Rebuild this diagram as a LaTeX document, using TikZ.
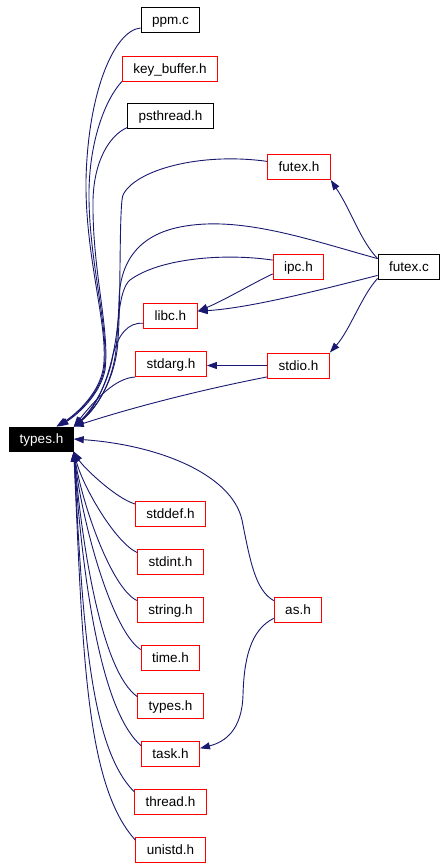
\documentclass[tikz,border=0pt]{standalone}
\usepackage{fontspec}
\setmainfont{Liberation Sans}
\usetikzlibrary{positioning, arrows.meta}
\definecolor{edgeblue}{RGB}{25,25,112}

\begin{document}
\begin{tikzpicture}[
    x=1pt, y=-1pt,
    node distance=22pt,
    fbox/.style={draw=black, line width=1pt, minimum height=25pt, text height=9.6pt, text depth=0pt, inner xsep=11pt, inner ysep=0pt, font=\fontsize{13.5}{15}\selectfont},
    hbox/.style={fbox, draw=red},
    root/.style={fbox, fill=black, text=white, minimum height=24pt, inner xsep=10pt},
    edge/.style={-{Triangle[length=10pt, width=7pt]}, edgeblue, line width=0.9pt},
]
\useasboundingbox (0,0) rectangle (447,868);

% the header itself
\node[root] (typ) at (41.5,439) {types.h};

% files above it
\node[fbox] (ppm) at (170.5,20) {ppm.c};
\node[hbox] (kb) at (170,68.5) {key\_buffer.h};
\node[fbox] (ps) at (170.5,116) {psthread.h};
\node[hbox] (fh) at (299,167) {futex.h};
\node[fbox] (fc) at (409,267) {futex.c};
\node[hbox] (ipc) at (298.5,267) {ipc.h};
\node[hbox] (lb) at (170.5,316) {libc.h};
\node[hbox] (sa) at (171,364) {stdarg.h};
\node[hbox] (si) at (298.5,365.5) {stdio.h};

% files below it
\node[hbox] (sdd) at (170.5,513.5) {stddef.h};
\node[hbox, below=of sdd] (sdi) {stdint.h};
\node[hbox, below=of sdi] (str) {string.h};
\node[hbox, below=of str] (tim) {time.h};
\node[hbox, below=of tim] (typ2) {types.h};
\node[hbox, below=of typ2] (tsk) {task.h};
\node[hbox, below=of tsk] (thr) {thread.h};
\node[hbox, below=of thr] (uni) {unistd.h};
\node[hbox] (as) at (298,609.5) {as.h};

% upper bundle
\draw[edge] (ppm.195) .. controls (115,30) and (88,90) .. (86,180) .. controls (85,260) and (110,330) .. (103,370) .. controls (98,395) and (75,415) .. ([xshift=15pt]typ.north);
\draw[edge] (kb.south west) .. controls (105,100) and (90,140) .. (89,190) .. controls (88,260) and (110,330) .. (104,370) .. controls (99,395) and (76,415) .. ([xshift=15pt]typ.north);
\draw[edge] (ps.195) .. controls (110,135) and (94,160) .. (93,200) .. controls (92,270) and (110,330) .. (105,370) .. controls (100,395) and (77,415) .. ([xshift=17pt]typ.north);
\draw[edge] (fh.170) .. controls (200,152) and (135,170) .. (123,195) .. controls (119,205) and (121,300) .. (118,340) .. controls (116,380) and (95,410) .. (typ.north east);
\draw[edge] (fc.165) .. controls (310,240) and (240,215) .. (180,227) .. controls (140,235) and (120,260) .. (119,300) .. controls (118,360) and (100,405) .. (typ.north east);
\draw[edge] (ipc.165) .. controls (225,253) and (160,258) .. (130,280) .. controls (118,290) and (118,330) .. (116,350) .. controls (112,385) and (95,410) .. (typ.north east);
\draw[edge] (lb.195) .. controls (128,322) and (118,335) .. (113,355) .. controls (108,385) and (92,410) .. (typ.north east);
\draw[edge] (sa.200) .. controls (115,378) and (95,400) .. (typ.north east);
\draw[edge] (si.200) .. controls (210,388) and (140,405) .. (typ.north east);
\draw[edge] (as.160) .. controls (255,590) and (250,560) .. (242,520) .. controls (232,475) and (160,445) .. (typ.east);

% lower bundle
\foreach \n/\a/\b/\c in {sdd/20/6/15, sdi/22/10/35, str/25/12/55, tim/28/18/75, typ2/35/25/100, tsk/40/35/130, thr/45/45/170, uni/50/55/200}
  \draw[edge] (\n.165) .. controls +(-\a,-\b) and +(9,\c) .. (typ.south east);

% edges between the other files
\draw[edge] (fc.165) .. controls (360,240) and (352,212) .. (fh.south east);
\draw[edge] (fc.195) .. controls (320,290) and (250,308) .. (lb.10);
\draw[edge] (ipc.195) .. controls (255,282) and (225,300) .. (lb.10);
\draw[edge] (fc.200) .. controls (362,295) and (350,330) .. (si.north east);
\draw[edge] (si.west) -- (sa.east |- si.west);
\draw[edge] (as.200) .. controls (250,630) and (244,660) .. (243,695) .. controls (242,730) and (225,742) .. (tsk.10);
\end{tikzpicture}
\end{document}
